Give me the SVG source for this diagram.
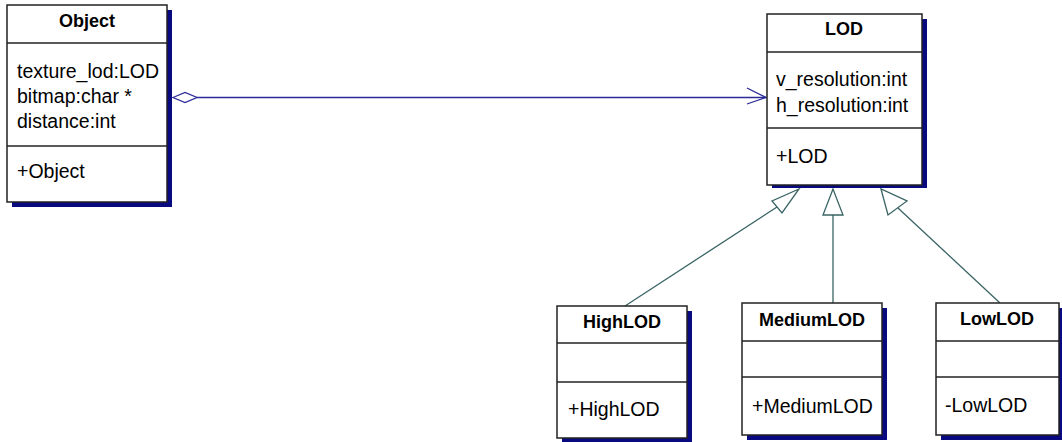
<svg xmlns="http://www.w3.org/2000/svg" width="1062" height="442" viewBox="0 0 1062 442">
<style>
.shadow{fill:#0a0a80}
.box{fill:#ffffff;stroke:#222222;stroke-width:1.5}
.div{stroke:#222222;stroke-width:1.5}
.title{font-family:"Liberation Sans",Arial,sans-serif;font-size:18px;font-weight:bold;fill:#000;text-anchor:middle}
.t{font-family:"Liberation Sans",Arial,sans-serif;font-size:19.5px;fill:#000}
.agg{stroke:#2a2a9a;stroke-width:1.3;fill:none}
.gen{stroke:#3a6464;stroke-width:1.3;fill:none}
.tri{stroke:#3a6464;stroke-width:1.3;fill:#ffffff}
</style>
<rect width="1062" height="442" fill="#ffffff"/>
<g id="connectors">
<line class="agg" x1="197" y1="97.5" x2="766" y2="97.5"/>
<polygon points="173,97.5 185,92.5 197,97.5 185,102.5" fill="#ffffff" stroke="#2a2a9a" stroke-width="1.3"/>
<polyline class="agg" points="747,88 766,97.5 747,104"/>
<line class="gen" x1="625" y1="306" x2="777" y2="207"/>
<polygon class="tri" points="799,189 772,201 782,213"/>
<line class="gen" x1="833" y1="303" x2="833" y2="215"/>
<polygon class="tri" points="833,189 823,215 843,215"/>
<line class="gen" x1="1000" y1="303" x2="898" y2="208"/>
<polygon class="tri" points="881,189 888,215 907,201"/>
</g>
<g id="Object">
<rect class="shadow" x="12" y="10" width="160" height="197"/>
<rect class="box" x="7" y="5" width="160" height="197"/>
<line class="div" x1="7" y1="43" x2="167" y2="43"/>
<line class="div" x1="7" y1="146" x2="167" y2="146"/>
<text class="title" x="87" y="27">Object</text>
<text class="t" x="17" y="78">texture_lod:LOD</text>
<text class="t" x="17" y="103">bitmap:char *</text>
<text class="t" x="17" y="128">distance:int</text>
<text class="t" x="17" y="178">+Object</text>
</g>
<g id="LOD">
<rect class="shadow" x="772" y="19" width="155" height="169"/>
<rect class="box" x="767" y="14" width="155" height="171"/>
<line class="div" x1="767" y1="52" x2="922" y2="52"/>
<line class="div" x1="767" y1="128" x2="922" y2="128"/>
<text class="title" x="844" y="35">LOD</text>
<text class="t" x="776" y="86">v_resolution:int</text>
<text class="t" x="776" y="112">h_resolution:int</text>
<text class="t" x="776" y="163">+LOD</text>
</g>
<g id="HighLOD">
<rect class="shadow" x="562" y="311" width="130" height="132"/>
<rect class="box" x="557" y="306" width="130" height="132"/>
<line class="div" x1="557" y1="343" x2="687" y2="343"/>
<line class="div" x1="557" y1="382" x2="687" y2="382"/>
<text class="title" x="622" y="328">HighLOD</text>
<text class="t" x="568" y="416">+HighLOD</text>
</g>
<g id="MediumLOD">
<rect class="shadow" x="747" y="308" width="140" height="132"/>
<rect class="box" x="742" y="303" width="140" height="132"/>
<line class="div" x1="742" y1="341" x2="882" y2="341"/>
<line class="div" x1="742" y1="377" x2="882" y2="377"/>
<text class="title" x="812" y="326">MediumLOD</text>
<text class="t" x="752" y="413">+MediumLOD</text>
</g>
<g id="LowLOD">
<rect class="shadow" x="941" y="308" width="123" height="132"/>
<rect class="box" x="936" y="303" width="123" height="132"/>
<line class="div" x1="936" y1="341" x2="1059" y2="341"/>
<line class="div" x1="936" y1="377" x2="1059" y2="377"/>
<text class="title" x="997" y="325">LowLOD</text>
<text class="t" x="945" y="412">-LowLOD</text>
</g>
</svg>
